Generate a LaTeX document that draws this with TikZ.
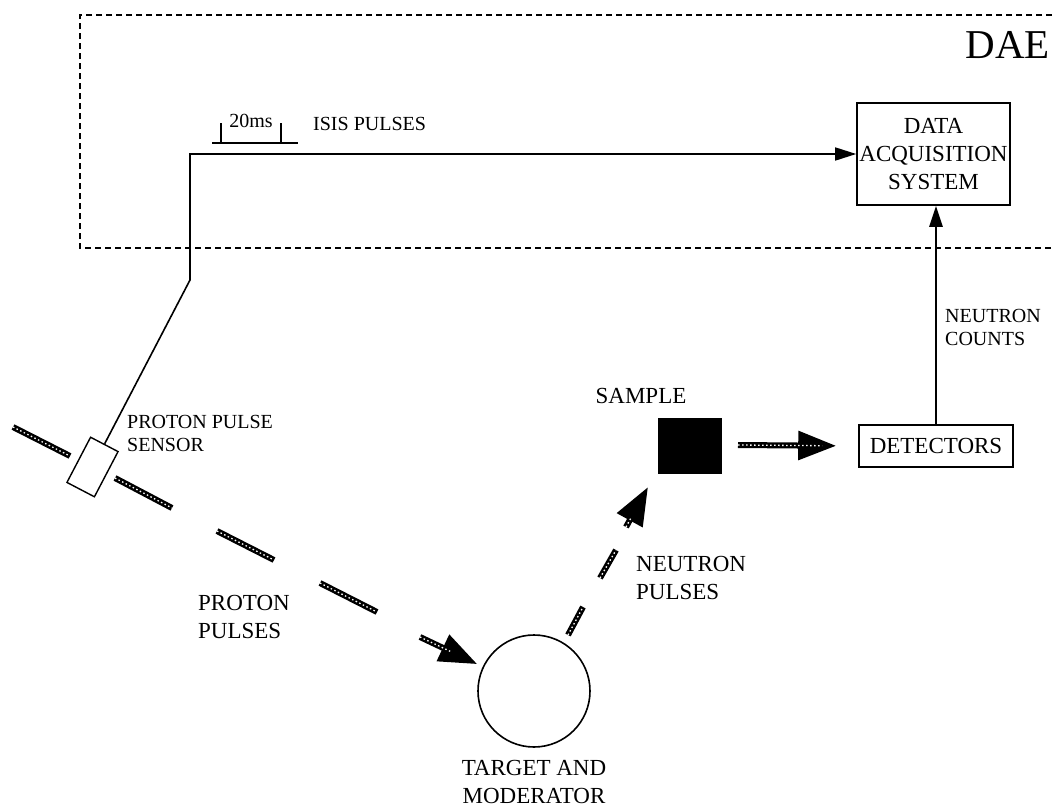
\documentclass[tikz,border=0pt]{standalone}
\usepackage{fontspec}
\setmainfont{Liberation Serif}
\usetikzlibrary{arrows.meta, positioning}

\begin{document}
\begin{tikzpicture}[
  x=1pt, y=-1pt,
    box/.style={
        draw,
        line width=1.6pt,
        align=center,
        inner sep=0pt
    },
    arrow/.style={
        -{Triangle[length=21pt,width=13pt]},
        line width=1.6pt
    },
    txt/.style={inner sep=0pt},
    big/.style={font=\fontsize{23}{28}\selectfont},
    small/.style={font=\fontsize{20}{23}\selectfont},
    beam/.style={
        line width=6pt,
        postaction={draw=white, line width=1.3pt, dash pattern=on 1.5pt off 2.5pt}
    },
    beamarrow/.style={
        line width=6pt,
        -{Triangle[length=38pt,width=28pt]},
        postaction={draw=white, line width=1.3pt, dash pattern=on 1.5pt off 2.5pt, -, shorten >=36pt}
    },
    daebox/.style={
        line width=1.5pt,
        dash pattern=on 6pt off 4pt
    }
]
\useasboundingbox (0,0) rectangle (1052,809);

% DAE frame
\draw[daebox] (1052,15) -| (80,248) -- (1052,248);
\node[txt, anchor=base east, font=\fontsize{41}{41}\selectfont] (dae) at (1050,58) {DAE};

% boxes
\node[box, big, minimum width=153pt, minimum height=102pt] (daq) at (933.5,154)
{DATA\\ACQUISITION\\SYSTEM};

\node[box, big, minimum width=154pt, minimum height=42pt] (det) at (936,446)
{DETECTORS};

\node[fill=black, draw, minimum width=63pt, minimum height=55pt, inner sep=0pt] (samp) at (689.5,445.5) {};

\node[draw, circle, line width=1.6pt, minimum size=112pt, inner sep=0pt] (tgt) at (534,691) {};

\node[draw, line width=1.4pt, minimum width=31pt, minimum height=51pt, inner sep=0pt, rotate=-27.6] (sensor) at (92.5,467) {};

% labels
\node[small, txt, anchor=base] (twenty) at (251,127) {20ms};
\node[small, txt, anchor=base west] (isis) at (313,130) {ISIS PULSES};
\node[small, txt, align=left, anchor=west] (sensorlbl) at (127,433) {PROTON PULSE\\SENSOR};
\node[big, txt, align=left, anchor=west] (protonlbl) at (198,617) {PROTON\\PULSES};
\node[big, txt, align=left, anchor=west] (neutronlbl) at (636,578) {NEUTRON\\PULSES};
\node[big, txt, anchor=base] (samplbl) at (641,403) {SAMPLE};
\node[big, txt, align=center, anchor=north] (tgtlbl) at (534,760) {TARGET AND\\MODERATOR};
\node[small, txt, align=left, anchor=west] (countlbl) at (945,327) {NEUTRON\\COUNTS};

% pulse sketch
\draw[line width=1.6pt] (212,143) -- (298,143);
\draw[line width=1.6pt] (221,143) -- (221,123);
\draw[line width=1.6pt] (281,143) -- (281,123);

% signal lines
\coordinate (bend) at (190,280);
\draw[arrow] (sensor.north) -- (bend) |- (daq.west);
\draw[arrow, line width=2.6pt] (det.north) -- (det.north |- daq.south);

% proton beam
\coordinate (p1) at (13,427);
\coordinate (p2) at (70,456);
\coordinate (p3) at (115,478);
\coordinate (p4) at (172,508);
\coordinate (p5) at (217,531);
\coordinate (p6) at (274,560);
\coordinate (p7) at (320,583);
\coordinate (p8) at (377,612);
\coordinate (p9) at (420,637);
\draw[beam] (p1) -- (p2);
\draw[beam] (p3) -- (p4);
\draw[beam] (p5) -- (p6);
\draw[beam] (p7) -- (p8);
\draw[beamarrow, shorten >=6pt] (p9) -- (tgt);

% neutron beam
\coordinate (n1) at (568,635);
\coordinate (n2) at (583,607);
\coordinate (n3) at (600,578);
\coordinate (n4) at (616,550);
\coordinate (n5) at (626,527);
\coordinate (n6) at (648,487);
\draw[beam] (n1) -- (n2);
\draw[beam] (n3) -- (n4);
\draw[beamarrow] (n5) -- (n6);

% scattered neutrons
\coordinate (s1) at (738,445);
\draw[beamarrow, shorten >=22pt] (s1) -- (det.west);

\end{tikzpicture}
\end{document}
